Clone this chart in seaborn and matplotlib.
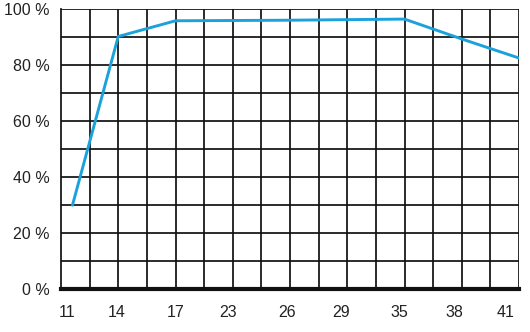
import matplotlib
matplotlib.use("Agg")
import matplotlib.pyplot as plt
import matplotlib.transforms as mtransforms
import seaborn as sns
import pandas as pd
import numpy as np

# data
x_labels = ["11", "14", "17", "23", "26", "29", "35", "38", "41"]
x_pos = [0.2, 1, 2, 3, 4, 5, 6, 7, 8]
values = [30, 90.2, 95.8, 95.9, 96.0, 96.2, 96.4, 89.3, 82.5]
y_ticks = [0, 20, 40, 60, 80, 100]
y_labels = ["0 %", "20 %", "40 %", "60 %", "80 %", "100 %"]

sns.set_theme(style="white")
plt.rcParams['font.family'] = ['Liberation Sans Narrow', 'Liberation Sans', 'DejaVu Sans']

df = pd.DataFrame({"x": x_pos, "y": values})

fig = plt.figure(figsize=(5.30, 3.32), dpi=100)
ax = fig.add_axes([61/530, 1 - 289.3/332, (519-61)/530, (289.3-9)/332])

sns.lineplot(data=df, x="x", y="y", ax=ax, color="#1ba2dc", linewidth=2.1, zorder=5)

ax.set_xlim(0, 8)
ax.set_ylim(0, 100)

# grid
for xv in np.arange(0.5, 8.01, 0.5):
    ax.axvline(xv, color="#111111", linewidth=1.25, zorder=1)
for yv in range(10, 101, 10):
    ax.axhline(yv, color="#111111", linewidth=1.25, zorder=1)

ax.set_xticks(range(9))
ax.set_xticklabels(x_labels)
ax.set_yticks(y_ticks)
ax.set_yticklabels(y_labels)
ax.set_xlabel("")
ax.set_ylabel("")

for s in ["top", "right"]:
    ax.spines[s].set_visible(False)
ax.spines["left"].set_color("#111111")
ax.spines["left"].set_linewidth(1.25)
ax.spines["bottom"].set_color("#111111")
ax.spines["bottom"].set_linewidth(3.0)
ax.spines["bottom"].set_zorder(6)

ax.tick_params(axis="both", which="major", direction="out", length=6, width=1.2,
               color="#111111", labelsize=11.5, labelcolor="#222222")
ax.tick_params(axis="x", pad=5)
ax.tick_params(axis="y", pad=2)

# small label shifts as in the reference
offsets = [6, -2, 0, -5, -3, -6, -5, -7, -13]
for lbl, dx in zip(ax.get_xticklabels(), offsets):
    lbl.set_transform(lbl.get_transform() + mtransforms.ScaledTranslation(dx/100, 0, fig.dpi_scale_trans))
ax.xaxis.get_major_ticks()[0].tick1line.set_visible(False)

fig.savefig("out.png", dpi=100)
